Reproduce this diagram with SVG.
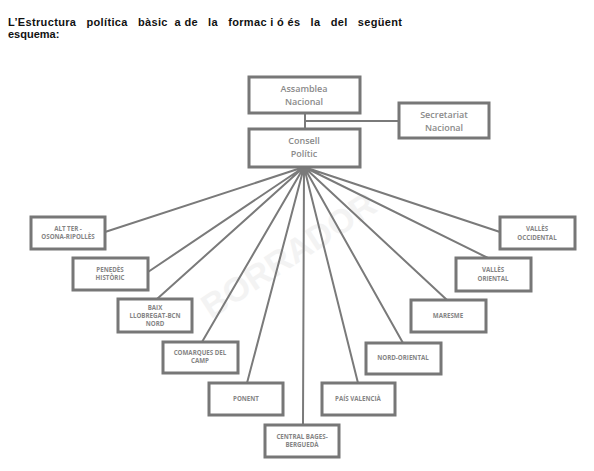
<svg xmlns="http://www.w3.org/2000/svg" width="594" height="471" viewBox="0 0 594 471">
<style>
.box{fill:#fff;stroke:#777;stroke-width:3}
.con{stroke:#7a7a7a;stroke-width:2;fill:none}
.big{font-family:"Open Sans","Noto Sans",sans-serif;font-size:9px;font-weight:600;fill:#8a8a8a;text-anchor:middle}
.sm{font-family:"Open Sans","Noto Sans",sans-serif;font-size:6.2px;font-weight:bold;fill:#858585;text-anchor:middle}
.title{font-family:"Liberation Sans",Arial,sans-serif;font-size:11px;font-weight:bold;fill:#111}
</style>
<rect width="594" height="471" fill="#fff"/>
<text class="title" x="8" y="26" xml:space="preserve" textLength="394" lengthAdjust="spacing">L’Estructura   política   bàsic  a de   la   formac i ó és   la   del   següent</text>
<text class="title" x="8" y="38">esquema:</text>
<text x="295" y="265" transform="rotate(-33 295 265)" font-family="'Liberation Sans',Arial,sans-serif" font-size="34" font-weight="bold" fill="#f3f3f3" text-anchor="middle">BORRADOR</text>
<g id="connectors">
<path class="con" d="M305 113V129M305 121H398"/>
<path class="con" d="M304 167L105 232M304 167L148 272M304 167L157 299M304 167L202 342M304 167L247 383M304 167L303 425M304 167L358 383M304 167L403 343M304 167L447 300M304 167L488 258M304 167L500 232"/>
</g>
<g id="assemblea"><rect class="box" x="249" y="77" width="111" height="36"/><text class="big" x="304" y="92">Assamblea</text><text class="big" x="304" y="105">Nacional</text></g>
<g id="secretariat"><rect class="box" x="399" y="103" width="90" height="35"/><text class="big" x="444" y="118">Secretariat</text><text class="big" x="444" y="131">Nacional</text></g>
<g id="consell"><rect class="box" x="249" y="129" width="111" height="38"/><text class="big" x="304" y="144">Consell</text><text class="big" x="304" y="157">Polític</text></g>
<g id="altter"><rect class="box" x="31" y="217" width="74" height="32"/><text class="sm" x="68" y="231">ALT TER -</text><text class="sm" x="68" y="239">OSONA-RIPOLLÈS</text></g>
<g id="penedes"><rect class="box" x="73" y="258" width="75" height="32"/><text class="sm" x="110" y="272">PENEDÈS</text><text class="sm" x="110" y="280">HISTÒRIC</text></g>
<g id="baix"><rect class="box" x="118" y="299" width="74" height="33"/><text class="sm" x="155" y="310">BAIX</text><text class="sm" x="155" y="318">LLOBREGAT-BCN</text><text class="sm" x="155" y="326">NORD</text></g>
<g id="comarques"><rect class="box" x="163" y="342" width="75" height="31"/><text class="sm" x="200" y="355">COMARQUES DEL</text><text class="sm" x="200" y="363">CAMP</text></g>
<g id="ponent"><rect class="box" x="209" y="383" width="74" height="32"/><text class="sm" x="246" y="401">PONENT</text></g>
<g id="central"><rect class="box" x="265" y="425" width="74" height="32"/><text class="sm" x="302" y="439">CENTRAL BAGES-</text><text class="sm" x="302" y="447">BERGUEDÀ</text></g>
<g id="paisvalencia"><rect class="box" x="322" y="383" width="73" height="32"/><text class="sm" x="358" y="401">PAÍS VALENCIÀ</text></g>
<g id="nordoriental"><rect class="box" x="366" y="343" width="75" height="31"/><text class="sm" x="403" y="360">NORD-ORIENTAL</text></g>
<g id="maresme"><rect class="box" x="411" y="300" width="75" height="32"/><text class="sm" x="448" y="318">MARESME</text></g>
<g id="vallesoriental"><rect class="box" x="456" y="258" width="75" height="33"/><text class="sm" x="493" y="272">VALLÈS</text><text class="sm" x="493" y="281">ORIENTAL</text></g>
<g id="vallesoccidental"><rect class="box" x="500" y="217" width="75" height="32"/><text class="sm" x="537" y="231">VALLÈS</text><text class="sm" x="537" y="240">OCCIDENTAL</text></g>
</svg>
